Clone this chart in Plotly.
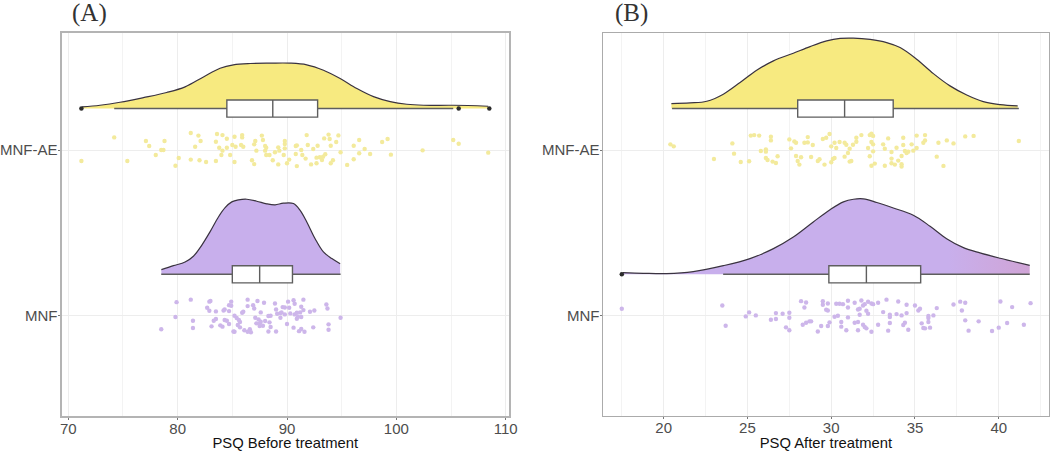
import plotly.graph_objects as go

W, H = 1052, 451
categories = ["MNF", "MNF-AE"]

# ---------- Panel A : PSQ Before treatment ----------
a_ae_x = [71.2,74.2,75.4,77.1,77.4,78.0,78.5,78.7,78.8,79.8,80.1,81.2,81.2,81.6,81.9,82.0,82.1,82.6,83.5,83.6,83.5,83.8,84.0,84.1,84.1,84.5,84.5,84.8,85.0,85.2,85.2,85.3,85.9,85.9,85.8,86.0,86.8,87.0,87.0,87.1,87.2,87.7,87.8,88.0,88.0,88.1,88.1,88.4,88.7,88.9,89.2,89.2,89.3,89.7,89.8,89.8,89.8,90.0,90.2,90.8,90.9,90.8,90.9,91.3,91.4,91.7,91.8,91.9,92.2,92.4,92.7,92.8,92.7,93.0,93.2,93.3,93.5,93.4,93.8,93.9,94.0,94.0,94.2,94.5,94.7,94.9,95.5,96.1,96.1,96.6,96.6,97.1,97.6,98.7,99.2,99.5,102.4,105.2,105.7,108.4]
a_ae_j = [-.066,.076,-.066,.054,.024,-.03,0,0,.054,-.095,-.048,.103,-.058,.02,.087,-.062,.054,-.072,-.066,.097,.05,.014,-.03,-.004,.09,.068,.014,-.03,.03,.08,-.072,.02,.09,.076,.03,.02,-.062,-.085,.034,.054,-.004,.087,.06,.024,-.004,.014,-.03,-.03,-.062,-.014,-.087,.016,-.004,-.03,.01,.054,.036,-.08,-.058,.024,.028,-.024,-.097,0,-.03,-.052,.09,.03,-.087,.006,-.08,.026,-.046,-.044,-.06,-.04,-.026,.07,.093,.066,.026,-.08,-.062,.048,.088,-.014,-.09,-.056,.026,.06,-.02,.006,-.024,.048,.066,-.028,-.002,.06,.038,-.016]
a_mnf_x = [78.5,79.8,79.9,81.2,81.4,81.4,82.7,82.9,83.0,82.9,83.1,83.3,83.5,83.5,83.9,84.1,84.2,84.3,84.3,84.5,84.7,84.7,84.7,84.9,84.9,85.1,85.2,85.2,85.4,85.5,85.7,85.6,85.7,85.9,86.0,86.1,86.4,86.4,86.4,86.6,86.7,86.9,87.0,87.1,87.2,87.3,87.4,87.5,87.6,87.5,87.8,87.6,87.9,88.0,88.3,88.3,88.5,88.5,88.4,88.9,89.0,89.0,89.1,89.4,89.4,89.5,89.6,89.8,89.8,90.0,90.1,90.2,90.3,90.6,90.6,90.7,90.7,90.9,90.9,91.1,91.0,91.2,91.3,91.3,91.3,91.5,91.5,91.6,92.1,92.4,92.5,93.6,93.7,93.8,93.8,94.9]
a_mnf_j = [-.082,-.008,.082,.097,-.03,-.074,.048,.085,.089,.03,-.064,-.03,-.02,.026,-.058,-.066,.032,.038,-.026,-.03,.028,.064,-.05,.085,.06,-.095,-.097,0,-.014,-.056,-.07,-.026,-.038,.018,.024,-.088,.058,.097,-.097,-.082,-.1,.064,.044,-.012,-.046,.089,-.022,-.046,-.036,-.062,-.06,.02,.078,-.032,-.002,-.095,0,-.068,-.04,.074,.038,-.095,.012,-.012,.016,.02,.052,.05,.008,-.05,.085,.048,.014,-.072,.093,.072,.008,-.018,.018,-.093,-.006,.02,.054,-.008,-.08,.097,.034,-.097,.024,-.07,.032,.068,.044,-.052,-.085,-.012]
a_ae_dens_x = [71.26,72.9,74.73,76.87,79,80.68,82.36,83.88,85.1,86.63,88.46,90.29,91.81,93.34,94.86,96.39,97.91,99.44,100.96,102.49,105.23,108.4]
a_ae_dens_h = [.01,.02,.038,.066,.097,.131,.191,.243,.264,.272,.274,.274,.264,.231,.181,.121,.072,.042,.026,.02,.02,.014]
a_mnf_dens_x = [78.51,79.61,80.68,81.44,82.2,82.96,83.73,84.34,84.95,85.56,86.32,87.23,88.15,88.91,89.67,90.59,91.2,91.81,92.57,93.33,94.1,94.86]
a_mnf_dens_h = [.028,.052,.074,.109,.175,.256,.346,.402,.437,.449,.453,.441,.425,.419,.429,.427,.386,.316,.215,.135,.095,.064]
a_ae_box = dict(q1=84.5, med=88.7, q3=92.8, lo=74.2, hi=105.2)
a_mnf_box = dict(q1=85.0, med=87.5, q3=90.5, lo=78.5, hi=94.9)
a_ae_out = [71.2, 105.7, 108.5]
a_mnf_out = []

# ---------- Panel B : PSQ After treatment ----------
b_ae_x = [20.4,20.6,23,24.1,24.2,24.6,25.1,25.2,25.4,25.7,25.8,26.1,26.1,26.1,26.2,26.4,26.4,26.5,26.7,26.8,27.5,27.6,27.8,27.9,27.9,28,28.1,28.2,28.4,28.6,28.6,28.8,28.9,29.2,29.3,29.5,29.6,29.9,29.7,30,30,30.1,30.2,30.2,30.3,30.5,30.8,30.8,30.9,31,31.1,31.1,31.2,31.3,31.5,31.5,31.8,32.2,32.3,32.4,32.5,32.4,32.5,32.3,32.5,32.4,32.6,33.1,33.2,33.2,33.4,33.6,33.6,33.6,33.8,33.9,34,34.2,34.2,34.2,34.3,34.3,34.4,34.5,34.6,34.8,34.9,35.1,35.1,35.6,35.6,35.5,36.3,36.4,36.7,36.9,37.3,38,38.5,41.2]
b_ae_j = [.034,.022,-.054,.04,-.022,-.072,-.068,.087,.09,.087,-.006,.004,-.01,-.048,-.06,.08,.058,-.07,-.078,-.038,.064,.01,.052,.044,-.036,-.066,-.088,-.044,.044,.046,.078,-.042,.03,-.066,-.056,.066,-.088,.097,.074,.022,-.074,-.054,-.048,.044,.012,.048,-.04,.044,.032,-.018,.008,-.07,-.066,.032,.074,.05,.09,.012,.09,.099,.085,.048,.034,-.038,-.008,-.095,-.082,.034,.008,-.095,.07,-.012,-.052,-.08,-.088,.014,-.064,-.036,-.086,-.1,.074,.03,-.006,-.018,-.01,.034,-.004,.012,.087,.09,.058,.044,-.04,.044,-.096,.058,.04,.082,.085,.054]
b_mnf_x = [17.5,23.5,23.7,24.9,25.1,25.5,26.4,26.7,26.7,27.1,27.3,27.5,27.5,27.5,28.2,28.4,28.5,28.3,28.5,28.7,28.8,29.2,29.4,29.5,29.5,29.7,29.8,29.8,29.8,29.9,30.2,30.4,30.3,30.5,30.7,30.6,30.6,30.9,31,31,31,31.4,31.4,31.6,31.6,31.7,31.7,31.6,31.8,31.9,32,31.9,32,32.1,32.1,32.2,32.2,32.4,32.5,32.4,32.8,32.8,33.1,33.3,33.4,33.5,33.5,33.5,33.9,34,34.2,34.3,34.4,34.5,34.5,34.6,35,35.2,35.3,35.4,35.5,35.6,35.8,35.8,35.9,35.8,36.1,36.3,37.3,37.7,37.8,38,38,38.2,38.8,39.6,40,40.1,40.5,40.8,41.5,41.9]
b_mnf_j = [.042,.062,-.06,-.004,.02,.002,-.024,-.02,.016,.012,-.07,-.088,-.012,.018,.088,.05,.08,-.054,-.042,-.034,-.034,-.095,-.062,.066,.088,.036,.032,-.062,.074,-.04,-.006,0,.072,.072,.07,-.038,-.066,-.088,.09,.05,-.01,.078,-.042,-.038,.038,.042,.006,-.088,.092,.062,.07,-.054,-.068,-.076,.03,.012,.084,.074,.07,-.097,.078,-.054,.022,.097,-.09,.006,-.044,-.008,.01,.086,.002,-.056,-.042,.016,.066,-.085,.062,.032,.042,-.046,-.074,-.076,-.014,-.038,-.072,-.002,.002,.046,.068,.085,.032,.078,-.028,-.09,-.034,-.092,-.072,.086,-.044,.052,-.054,.076]
b_ae_dens_x = [20.46,21.57,22.57,23.56,24.56,25.55,26.55,27.74,28.74,29.73,30.53,31.32,32.32,33.31,34.11,35.1,36.1,37.09,38.09,39.08,40.08,41.13]
b_ae_dens_h = [.03,.034,.044,.087,.157,.231,.288,.334,.374,.408,.423,.425,.417,.398,.368,.298,.211,.137,.082,.042,.024,.016]
b_mnf_dens_x = [17.55,18.79,20.18,21.77,23.56,25.15,26.55,27.74,28.93,29.93,30.73,31.33,31.92,32.72,33.71,34.9,35.9,36.89,37.89,38.88,40.08,41.85]
b_mnf_dens_h = [.01,.006,.004,.016,.052,.095,.155,.225,.316,.39,.437,.453,.455,.433,.40,.356,.29,.215,.161,.129,.097,.054]
b_ae_box = dict(q1=28.0, med=30.8, q3=33.7, lo=20.5, hi=41.2)
b_mnf_box = dict(q1=29.86, med=32.1, q3=35.34, lo=23.55, hi=41.85)
b_ae_out = []
b_mnf_out = [17.5]

YEL, YEL_DOT = "#F7EA80", "#F3EA9C"
PUR, PUR_DOT = "#C8AFEC", "#CDB6EA"
PUR_END = "#D0A4D6"
BASE_OFFSET = 0.25
BOX_W = 0.103

fig = go.Figure()


def group(xa, ya, xo, yo, cat, fill, dot, dens_x, dens_h, box, out, pts_x, pts_j, gradient=None):
    base = cat + BASE_OFFSET
    fig.add_trace(go.Scatter(x=dens_x, y=[base] * len(dens_x), mode="lines",
                             line=dict(width=0, color=fill), xaxis=xa, yaxis=ya, hoverinfo="skip"))
    style = dict(fillcolor=fill)
    if gradient:
        style = dict(fillgradient=dict(type="horizontal", colorscale=gradient))
    fig.add_trace(go.Scatter(x=dens_x, y=[base + h for h in dens_h], mode="lines",
                             line=dict(color="#3a3340", width=1.2, shape="spline", smoothing=1.0),
                             fill="tonexty", xaxis=xa, yaxis=ya, hoverinfo="skip", **style))
    # Box sits on an overlaying axis pair so that it is painted above the density fill.
    fig.add_trace(go.Box(y=[base], q1=[box["q1"]], median=[box["med"]], q3=[box["q3"]],
                         lowerfence=[box["lo"]], upperfence=[box["hi"]], orientation="h",
                         width=BOX_W, whiskerwidth=0, fillcolor="white", boxpoints=False,
                         line=dict(color="#5e5e5e", width=1.4), xaxis=xo, yaxis=yo))
    if out:
        fig.add_trace(go.Scatter(x=out, y=[base] * len(out), mode="markers",
                                 marker=dict(color="#2b2b2b", size=4.5), xaxis=xo, yaxis=yo))
    fig.add_trace(go.Scatter(x=pts_x, y=[cat + j for j in pts_j], mode="markers",
                             marker=dict(color=dot, size=4.4, line=dict(width=0)), xaxis=xa, yaxis=ya))


group("x", "y", "x3", "y3", 1, PUR, PUR_DOT, a_mnf_dens_x, a_mnf_dens_h, a_mnf_box, a_mnf_out, a_mnf_x, a_mnf_j)
group("x", "y", "x3", "y3", 2, YEL, YEL_DOT, a_ae_dens_x, a_ae_dens_h, a_ae_box, a_ae_out, a_ae_x, a_ae_j)
group("x2", "y2", "x4", "y4", 1, PUR, PUR_DOT, b_mnf_dens_x, b_mnf_dens_h, b_mnf_box, b_mnf_out, b_mnf_x, b_mnf_j,
      gradient=[[0, PUR], [0.8, PUR], [1, PUR_END]])
group("x2", "y2", "x4", "y4", 2, YEL, YEL_DOT, b_ae_dens_x, b_ae_dens_h, b_ae_box, b_ae_out, b_ae_x, b_ae_j)

GRID = "#EDEDED"
TICKF = dict(family="Liberation Sans, Arial, sans-serif", size=15, color="#4d4d4d")
YR = [0.395, 2.706]
XRA = [69.38, 110.3]
XRB = [16.36, 43.0]
DA = [61.5 / W, 509 / W]
DB = [602.7 / W, 1049 / W]
YD = [1 - 416 / H, 1 - 33 / H]


def xaxis(dom, rng, d0, dt, title, lw, lc):
    return dict(domain=dom, range=rng, tick0=d0, dtick=dt, showgrid=True, gridcolor=GRID, gridwidth=1,
                minor=dict(dtick=dt / 2, tick0=d0, showgrid=True, gridcolor="#F3F3F3", gridwidth=1, ticks=""),
                zeroline=False, showline=True, mirror=True, linecolor=lc, linewidth=lw, automargin=False,
                ticks="outside", ticklen=2, tickcolor="#777", tickfont=TICKF, ticklabelstandoff=-4,
                title=dict(text=title, font=dict(family="Liberation Sans, Arial, sans-serif", size=14.8, color="#111")))


def yaxis(lw, lc, anchor):
    return dict(domain=YD, range=YR, tickvals=[1, 2], ticktext=categories, showgrid=True,
                gridcolor=GRID, gridwidth=1, zeroline=False, showline=True, mirror=True, automargin=False,
                linecolor=lc, linewidth=lw, ticks="outside", ticklen=2, tickcolor="#777", tickfont=TICKF,
                ticklabelstandoff=-3, anchor=anchor)


fig.update_layout(
    width=W, height=H, margin=dict(l=0, r=0, t=0, b=0), showlegend=False,
    paper_bgcolor="white", plot_bgcolor="white",
    xaxis=xaxis(DA, XRA, 70, 10, "PSQ Before treatment", 2, "#B4B4B4"),
    yaxis=yaxis(2, "#B4B4B4", "x"),
    xaxis2=xaxis(DB, XRB, 20, 5, "PSQ After treatment", 1.4, "#ABABAB"),
    yaxis2=yaxis(1.4, "#ABABAB", "x2"),
    xaxis3=dict(domain=DA, range=XRA, overlaying="x", visible=False, anchor="y3"),
    yaxis3=dict(domain=YD, range=YR, overlaying="y", visible=False, anchor="x3"),
    xaxis4=dict(domain=DB, range=XRB, overlaying="x2", visible=False, anchor="y4"),
    yaxis4=dict(domain=YD, range=YR, overlaying="y2", visible=False, anchor="x4"),
    annotations=[
        dict(text="(A)", x=70 / W, y=1 - 13 / H, xref="paper", yref="paper", xanchor="left", yanchor="middle",
             showarrow=False, font=dict(family="Liberation Serif, serif", size=25, color="#333")),
        dict(text="(B)", x=613 / W, y=1 - 13 / H, xref="paper", yref="paper", xanchor="left", yanchor="middle",
             showarrow=False, font=dict(family="Liberation Serif, serif", size=25, color="#333")),
    ],
)

fig.write_html("out.html", config={"displayModeBar": False}, post_script="document.body.style.margin='0';")
